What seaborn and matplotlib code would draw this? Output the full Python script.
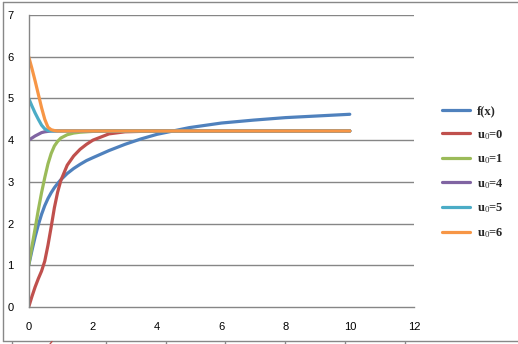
import matplotlib
matplotlib.use("Agg")
import matplotlib.pyplot as plt
import seaborn as sns
import pandas as pd
from matplotlib.lines import Line2D

# ---- data ----
x_f = [0, 0.1, 0.2, 0.3, 0.4, 0.5, 0.6, 0.7, 0.8, 0.9, 1.0, 1.2, 1.4, 1.6, 1.8,
       2.0, 2.5, 3.0, 3.5, 4.0, 5.0, 6.0, 7.0, 8.0, 9.0, 10.0]
f_x = [1.0, 1.35, 1.68, 1.97, 2.22, 2.43, 2.6, 2.74, 2.86, 2.96, 3.05, 3.2, 3.32, 3.42, 3.51,
       3.58, 3.75, 3.9, 4.03, 4.14, 4.3, 4.41, 4.48, 4.54, 4.58, 4.62]

x_u = [0, 0.1, 0.2, 0.3, 0.4, 0.5, 0.6, 0.7, 0.8, 0.9, 1.0, 1.2, 1.4, 1.6, 1.8,
       2.0, 2.5, 3.0, 3.5, 4.0, 5.0, 6.0, 7.0, 8.0, 9.0, 10.0]
u0_0 = [0.0, 0.25, 0.48, 0.68, 0.86, 1.1, 1.48, 1.92, 2.38, 2.75, 3.03, 3.4, 3.62, 3.78, 3.9,
        4.0, 4.15, 4.2, 4.21, 4.22, 4.22, 4.22, 4.22, 4.22, 4.22, 4.22]
u0_1 = [1.0, 1.45, 1.88, 2.33, 2.74, 3.1, 3.43, 3.68, 3.86, 3.97, 4.05, 4.13, 4.17, 4.19, 4.2,
        4.21, 4.22, 4.22, 4.22, 4.22, 4.22, 4.22, 4.22, 4.22, 4.22, 4.22]
u0_4 = [4.0, 4.05, 4.1, 4.14, 4.18, 4.2, 4.21, 4.22, 4.22, 4.22, 4.22, 4.22, 4.22, 4.22, 4.22,
        4.22, 4.22, 4.22, 4.22, 4.22, 4.22, 4.22, 4.22, 4.22, 4.22, 4.22]
u0_5 = [5.0, 4.82, 4.65, 4.5, 4.36, 4.27, 4.23, 4.22, 4.22, 4.22, 4.22, 4.22, 4.22, 4.22, 4.22,
        4.22, 4.22, 4.22, 4.22, 4.22, 4.22, 4.22, 4.22, 4.22, 4.22, 4.22]
u0_6 = [6.0, 5.72, 5.42, 5.1, 4.78, 4.5, 4.31, 4.25, 4.23, 4.22, 4.22, 4.22, 4.22, 4.22, 4.22,
        4.22, 4.22, 4.22, 4.22, 4.22, 4.22, 4.22, 4.22, 4.22, 4.22, 4.22]

labels = ["f(x)", "u$_0$=0", "u$_0$=1", "u$_0$=4", "u$_0$=5", "u$_0$=6"]
colors = ["#4F81BD", "#C0504D", "#9BBB59", "#8064A2", "#4BACC6", "#F79646"]
x_ticks = [0, 2, 4, 6, 8, 10, 12]
y_ticks = [0, 1, 2, 3, 4, 5, 6, 7]

rows = []
for xv, yv in zip(x_f, f_x):
    rows.append((labels[0], xv, yv))
for lab, ys in zip(labels[1:], [u0_0, u0_1, u0_4, u0_5, u0_6]):
    for xv, yv in zip(x_u, ys):
        rows.append((lab, xv, yv))
df = pd.DataFrame(rows, columns=["series", "x", "y"])

sns.set_style("white")
plt.rcParams["font.family"] = ["Liberation Sans", "DejaVu Sans"]
plt.rcParams["mathtext.fontset"] = "custom"
plt.rcParams["mathtext.rm"] = "Liberation Serif"
plt.rcParams["mathtext.it"] = "Liberation Serif"
plt.rcParams["mathtext.bf"] = "Liberation Serif:bold"

W, H = 518, 344
fig = plt.figure(figsize=(W / 100, H / 100), dpi=100)
fig.patch.set_facecolor("white")

# outer chart border
fig.add_artist(Line2D([2.5 / W, 2.5 / W], [1 - 1.5 / H, 1 - 341 / H], transform=fig.transFigure,
                      color="#888888", lw=1.0))
fig.add_artist(Line2D([2.5 / W, 1.0], [1 - 1.5 / H, 1 - 1.5 / H], transform=fig.transFigure,
                      color="#888888", lw=1.0))
fig.add_artist(Line2D([2.5 / W, 1.0], [1 - 341 / H, 1 - 341 / H], transform=fig.transFigure,
                      color="#888888", lw=1.0))
# fragments of ticks below the border
for px in [12, 106, 166, 225, 285, 345, 405]:
    fig.add_artist(Line2D([px / W, px / W], [0, 2.5 / H], transform=fig.transFigure,
                          color="#888888", lw=1.0))
fig.add_artist(Line2D([50 / W, 52 / W], [0, 2.5 / H], transform=fig.transFigure,
                      color="#C0504D", lw=1.0))

left, right, top, bottom = 28.7, 414.0, 15.0, 307.0
ax = fig.add_axes([left / W, 1 - bottom / H, (right - left) / W, (bottom - top) / H])

sns.lineplot(data=df, x="x", y="y", hue="series", hue_order=labels,
             palette=colors, linewidth=2.3, ax=ax, legend=False, sort=True,
             estimator=None)
for ln in ax.lines:
    ln.set_solid_joinstyle("round")
    ln.set_solid_capstyle("round")

ax.set_xlim(0, 12)
ax.set_ylim(0, 7)
ax.set_xticks(x_ticks)
ax.set_yticks(y_ticks)
ax.set_xlabel("")
ax.set_ylabel("")
ax.grid(False)
for yv in y_ticks[1:]:
    ax.axhline(yv, color="#868686", lw=1.0, zorder=0)
for s in ["top", "right"]:
    ax.spines[s].set_visible(False)
for s in ["left", "bottom"]:
    ax.spines[s].set_color("#868686")
    ax.spines[s].set_linewidth(1.0)
ax.tick_params(axis="both", direction="out", length=4, width=1.0, color="#868686",
               labelsize=8, labelcolor="black")
ax.tick_params(axis="y", pad=7)
ax.tick_params(axis="x", pad=7)

handles = [Line2D([0], [0], color=c, lw=2.3) for c in colors]
leg = fig.legend(handles, labels, loc="upper left",
                 bbox_to_anchor=(437 / W, 1 - 100 / H), frameon=False,
                 prop={"family": ["Liberation Serif", "DejaVu Serif"], "weight": "bold", "size": 9},
                 handlelength=2.2, handletextpad=0.6, labelspacing=0.86, borderaxespad=0)

fig.savefig("out.png", dpi=100, facecolor="white")
